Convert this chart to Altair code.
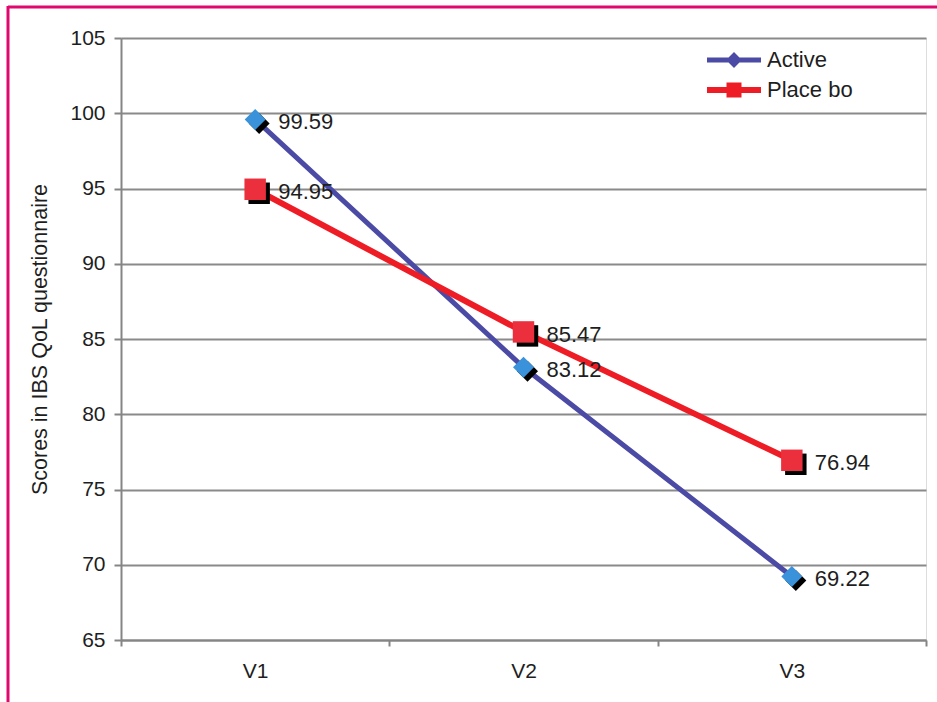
import altair as alt
import pandas as pd

visits = ["V1", "V2", "V3"]
active = [99.59, 83.12, 69.22]
placebo = [94.95, 85.47, 76.94]
series_names = ["Active", "Place bo"]
line_colors = ["#4B4BA6", "#EE1C25"]
marker_colors = ["#3A92DA", "#EC2F3C"]
y_ticks = [65, 70, 75, 80, 85, 90, 95, 100, 105]

rows = []
for i, v in enumerate(visits):
    rows.append({"visit": v, "series": "Active", "score": active[i], "label": f"{active[i]:.2f}"})
    rows.append({"visit": v, "series": "Place bo", "score": placebo[i], "label": f"{placebo[i]:.2f}"})
df = pd.DataFrame(rows)

FONT = "Liberation Sans"
TXT = "#1e1e1e"

x_enc = alt.X(
    "visit:N",
    bandPosition=0.5,
    sort=visits,
    scale=alt.Scale(type="band", domain=visits, paddingInner=0, paddingOuter=0),
    axis=alt.Axis(
        title=None, labelAngle=0, tickBand="extent", grid=False,
        labelFontSize=21, labelFont=FONT, labelPadding=14, labelColor=TXT,
        tickSize=6, tickColor="#858585", tickWidth=2,
        domainColor="#858585", domainWidth=2,
    ),
)
y_enc = alt.Y(
    "score:Q",
    scale=alt.Scale(domain=[65, 105], nice=False, zero=False),
    axis=alt.Axis(
        title="Scores in IBS QoL questionnaire", values=y_ticks,
        titleFontSize=21.5, titleFont=FONT, titleFontWeight="normal", titlePadding=18, titleColor=TXT,
        labelFontSize=21, labelFont=FONT, labelPadding=9, labelColor=TXT,
        tickSize=7, tickColor="#858585", tickWidth=2,
        domainColor="#858585", domainWidth=2,
        grid=True, gridColor="#8A8A8A", gridWidth=2,
    ),
)

base = alt.Chart(df)
act = base.transform_filter("datum.series == 'Active'")
plc = base.transform_filter("datum.series == 'Place bo'")

line_active = act.mark_line(strokeWidth=5, color=line_colors[0]).encode(x=x_enc, y=y_enc)
line_placebo = plc.mark_line(strokeWidth=6, color=line_colors[1]).encode(x=x_enc, y=y_enc)

def markers(src, shape, size, fill):
    sh = src.mark_point(filled=True, opacity=1, xOffset=4, yOffset=4, fill="black", strokeWidth=0,
                        shape=shape, size=size).encode(x=x_enc, y=y_enc)
    pt = src.mark_point(filled=True, opacity=1, strokeWidth=0, fill=fill,
                        shape=shape, size=size).encode(x=x_enc, y=y_enc)
    return sh, pt

sh_a, pt_a = markers(act, "diamond", 440, marker_colors[0])
sh_p, pt_p = markers(plc, "square", 460, marker_colors[1])

labels = base.mark_text(align="left", baseline="middle", dx=23, dy=3, fontSize=22, font=FONT, color=TXT).encode(
    x=x_enc, y=y_enc, text="label:N"
)

# legend source layer (draws no marks, only provides the legend)
legend_paths = [
    "M-1.8,-0.17L1.8,-0.17L1.8,0.17L-1.8,0.17Z M-0.53,0L0,-0.53L0.53,0L0,0.53Z",
    "M-1.8,-0.2L1.8,-0.2L1.8,0.2L-1.8,0.2Z M-0.5,-0.5L0.5,-0.5L0.5,0.5L-0.5,0.5Z",
]
leg = alt.Legend(
    title=None, orient="none", legendX=598, legendY=7, padding=0,
    symbolSize=900, symbolStrokeWidth=0, symbolOpacity=1,
    labelFontSize=22, labelFont=FONT, labelColor=TXT, labelOffset=18,
    rowPadding=4,
)
legend_layer = base.transform_filter("datum.score < 0").mark_point(filled=True, opacity=1).encode(
    x=x_enc, y=y_enc,
    color=alt.Color("series:N", scale=alt.Scale(domain=series_names, range=line_colors), legend=leg),
    shape=alt.Shape("series:N", scale=alt.Scale(domain=series_names, range=legend_paths), legend=leg),
)

# decorative frame of the figure
frame_top = alt.Chart(pd.DataFrame({"a": [0]})).mark_rule(color="#E0086F", strokeWidth=3).encode(
    x=alt.value(-113), x2=alt.value(820), y=alt.value(-31)
)
frame_left = alt.Chart(pd.DataFrame({"a": [0]})).mark_rule(color="#E0086F", strokeWidth=3).encode(
    x=alt.value(-113), y=alt.value(-32), y2=alt.value(670)
)

chart = alt.layer(
    line_active, line_placebo, sh_a, pt_a, sh_p, pt_p, labels, legend_layer, frame_top, frame_left
).properties(
    width=805, height=602,
    autosize=alt.AutoSizeParams(type="none"),
    padding={"left": 121, "top": 38, "right": 11, "bottom": 62},
    background="white",
).configure_view(stroke=None).configure(font=FONT)

chart.save("out.html", embed_options={"renderer": "svg", "actions": False})
